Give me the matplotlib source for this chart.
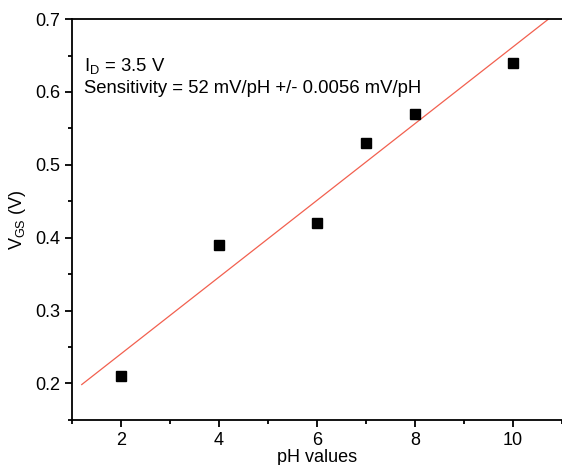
import numpy as np
import matplotlib
matplotlib.use("Agg")
import matplotlib.pyplot as plt
from matplotlib.ticker import MultipleLocator

plt.rcParams['font.family'] = ['Liberation Sans', 'DejaVu Sans']
plt.rcParams['mathtext.fontset'] = 'custom'
plt.rcParams['mathtext.rm'] = 'Liberation Sans'
plt.rcParams['mathtext.it'] = 'Liberation Sans:italic'

ph = [2, 4, 6, 7, 8, 10]
vgs = [0.21, 0.39, 0.42, 0.53, 0.57, 0.64]
fit_range = [1.2, 11.0]

slope, intercept = np.polyfit(ph, vgs, 1)

fig = plt.figure(figsize=(5.62, 4.65), dpi=100)
ax = fig.add_axes([0.128, 0.097, 0.872, 0.862])

xf = np.array(fit_range)
ax.plot(xf, slope * xf + intercept, color='#f2604f', lw=0.9)
ax.plot(ph, vgs, 's', color='black', markersize=6.5, linestyle='none')

ax.set_xlim(1, 11)
ax.set_ylim(0.15, 0.7)
ax.xaxis.set_minor_locator(MultipleLocator(1))
ax.yaxis.set_minor_locator(MultipleLocator(0.05))
ax.set_yticks([0.2, 0.3, 0.4, 0.5, 0.6, 0.7])
ax.set_yticklabels(['0.2', '0.3', '0.4', '0.5', '0.6', '0.7'])
ax.set_xticks([2, 4, 6, 8, 10])
ax.set_xticklabels(['2', '4', '6', '8', '10'])

ax.spines['right'].set_visible(False)
for s in ['left', 'bottom', 'top']:
    ax.spines[s].set_linewidth(1.3)
ax.tick_params(which='major', direction='out', length=5, width=1.3, labelsize=13, top=False, right=False)
ax.tick_params(which='minor', direction='out', length=3, width=1.3, top=False, right=False)

ax.set_xlabel('pH values', fontsize=13, labelpad=0)
ax.set_ylabel(r'V$_{\mathrm{GS}}$ (V)', fontsize=13, labelpad=5)

ax.text(0.024, 0.883, r'I$_{\mathrm{D}}$ = 3.5 V', transform=ax.transAxes, fontsize=13.3, va='center', ha='left')
ax.text(0.024, 0.828, 'Sensitivity = 52 mV/pH +/- 0.0056 mV/pH', transform=ax.transAxes, fontsize=13.3, va='center', ha='left')

fig.savefig('out.png', dpi=100)
